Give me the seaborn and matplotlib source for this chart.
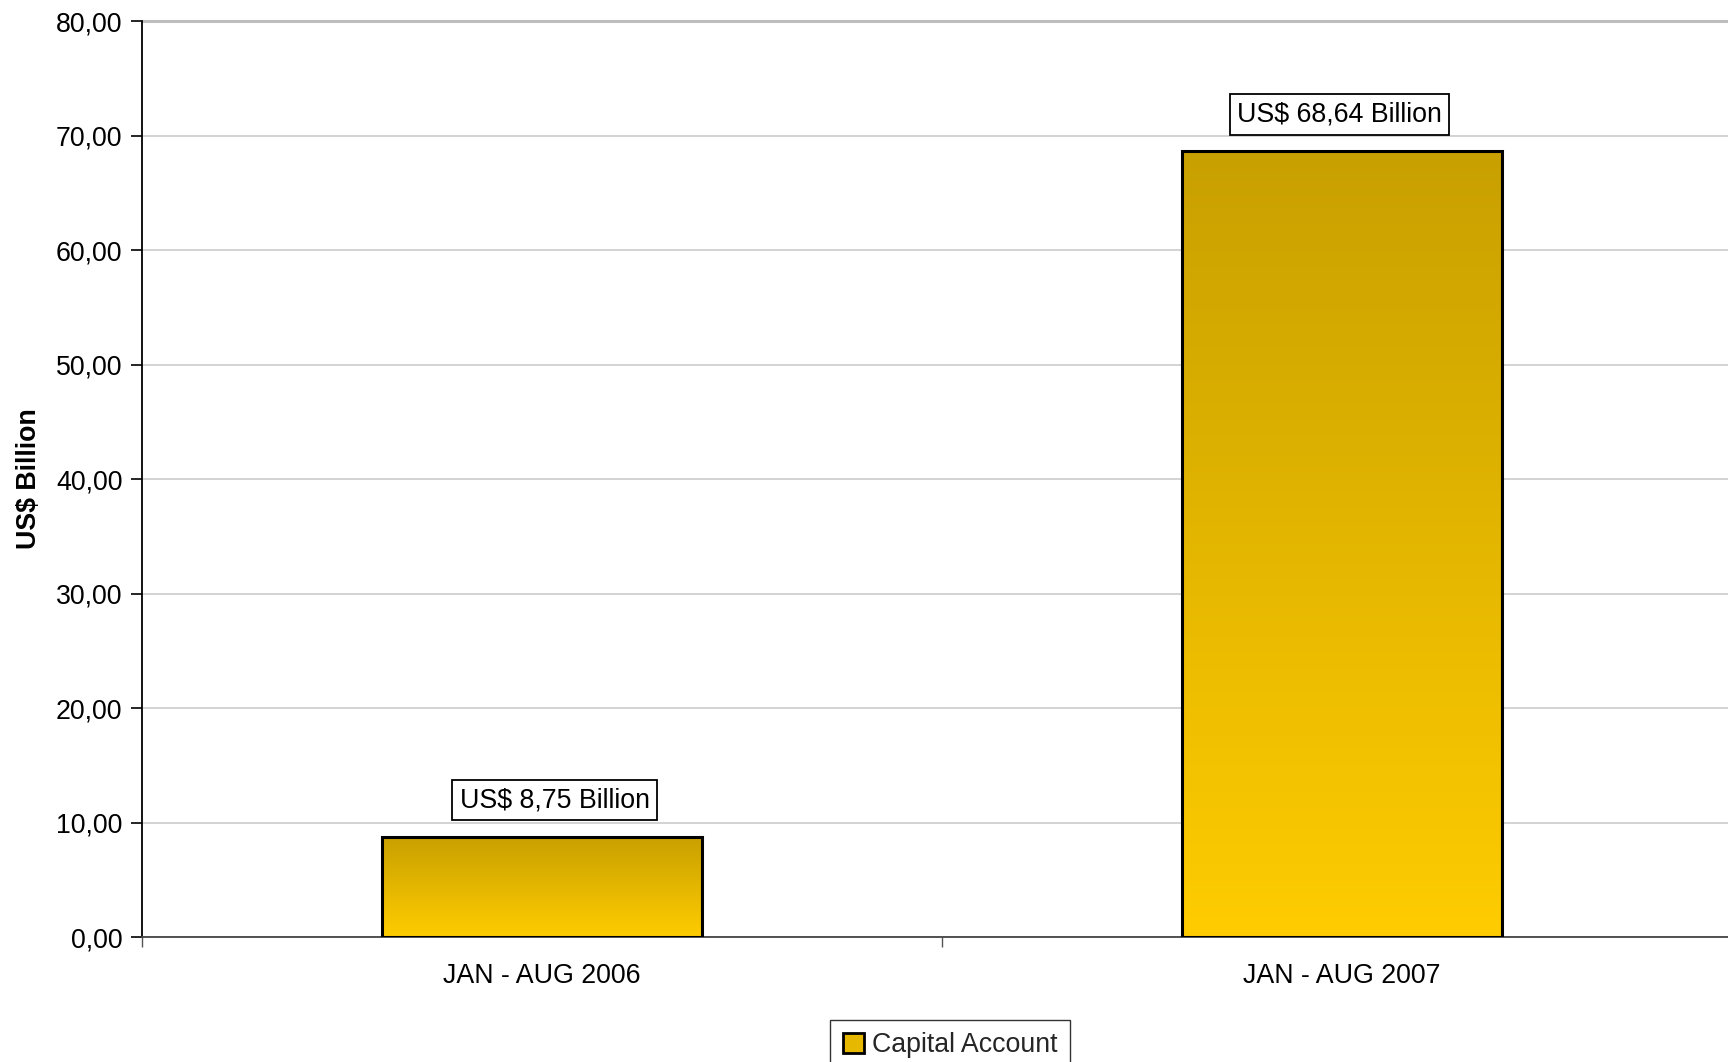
import numpy as np
import pandas as pd
import matplotlib
matplotlib.use("Agg")
import matplotlib.pyplot as plt
import matplotlib.colors as mcolors
from matplotlib.patches import Patch
from matplotlib.ticker import FixedLocator, FuncFormatter
import seaborn as sns

# Data
periods = ["JAN - AUG 2006", "JAN - AUG 2007"]
capital_account = [8.75, 68.64]
value_labels = ["US$ 8,75 Billion", "US$ 68,64 Billion"]
series_name = "Capital Account"
y_ticks = [0, 10, 20, 30, 40, 50, 60, 70, 80]

df = pd.DataFrame({"period": periods, "value": capital_account})

sns.set_theme(style="white")
plt.rcParams["font.family"] = ["Liberation Sans", "DejaVu Sans"]

FS = 19.3

fig = plt.figure(figsize=(17.28, 10.62), dpi=100)
ax = fig.add_axes([0.0822, 0.1177, 0.9259, 0.8625])

sns.barplot(data=df, x="period", y="value", ax=ax, width=0.4,
            color="#FFCC00", edgecolor="black", linewidth=2.2, zorder=3)

ax.set_ylim(0, 80)
ax.set_xlim(-0.5, 1.5)

# vertical gold gradient inside each bar
top_c = np.array(mcolors.to_rgb("#C8A000"))
bot_c = np.array(mcolors.to_rgb("#FFCC00"))
t = np.linspace(0, 1, 256)[:, None]
grad = (top_c[None, :] * (1 - t) + bot_c[None, :] * t)[:, None, :]
for patch in ax.patches:
    x0, y0 = patch.get_x(), patch.get_y()
    w, h = patch.get_width(), patch.get_height()
    im = ax.imshow(grad, extent=[x0, x0 + w, y0, y0 + h], aspect="auto",
                   origin="upper", zorder=3.5, interpolation="bilinear")
    im.set_clip_path(patch)
    patch.set_facecolor("none")
    patch.set_zorder(4)

# value labels in boxes above bars
x_shift = [9, -2]
for i, (v, lab) in enumerate(zip(capital_account, value_labels)):
    ax.annotate(lab, xy=(i, v), xytext=(x_shift[i], 17), textcoords="offset points",
                ha="center", va="bottom", fontsize=FS, color="black",
                bbox=dict(boxstyle="square,pad=0.27", fc="white", ec="black", lw=1.3),
                zorder=6)

# y axis
ax.set_yticks(y_ticks)
ax.yaxis.set_major_formatter(FuncFormatter(lambda v, p: f"{v:.2f}".replace(".", ",")))
ax.tick_params(axis="y", which="major", left=True, length=8, width=1.2, color="black",
               labelsize=FS, pad=6, labelcolor="black")
ax.set_ylabel("US$ Billion", fontsize=FS, fontweight="bold", color="black", labelpad=10)
ax.grid(axis="y", color="#c8c8c8", linewidth=1.1, zorder=0)
ax.set_axisbelow(True)

# x axis: ticks at category boundaries, labels at centres
ax.set_xlabel("")
ax.xaxis.set_major_locator(FixedLocator([-0.5, 0.5, 1.5]))
ax.xaxis.set_major_formatter(FuncFormatter(lambda v, p: ""))
ax.xaxis.set_minor_locator(FixedLocator([0, 1]))
ax.xaxis.set_minor_formatter(FuncFormatter(lambda v, p: periods[int(round(v))]))
ax.tick_params(axis="x", which="major", bottom=True, length=7, width=1.0, color="#555555")
ax.tick_params(axis="x", which="minor", bottom=False, length=0, labelsize=FS, pad=19,
               labelcolor="black")

for s in ["top", "right"]:
    ax.spines[s].set_visible(False)
ax.spines["left"].set_color("black")
ax.spines["left"].set_linewidth(1.3)
ax.spines["bottom"].set_color("#444444")
ax.spines["bottom"].set_linewidth(1.3)

# top gridline slightly heavier
ax.axhline(80, color="#bdbdbd", linewidth=2.2, zorder=1, clip_on=False)

handle = Patch(facecolor="#E6B800", edgecolor="black", linewidth=2)
leg = fig.legend([handle], [series_name], loc="upper center",
                 bbox_to_anchor=(0.5498, 0.0395), fontsize=FS, frameon=True,
                 fancybox=False, handlelength=0.8, handleheight=0.8, handletextpad=0.3,
                 borderpad=0.45, borderaxespad=0)
leg.get_frame().set_edgecolor("black")
leg.get_frame().set_linewidth(1.0)

fig.savefig("out.png", dpi=100, facecolor="white")
